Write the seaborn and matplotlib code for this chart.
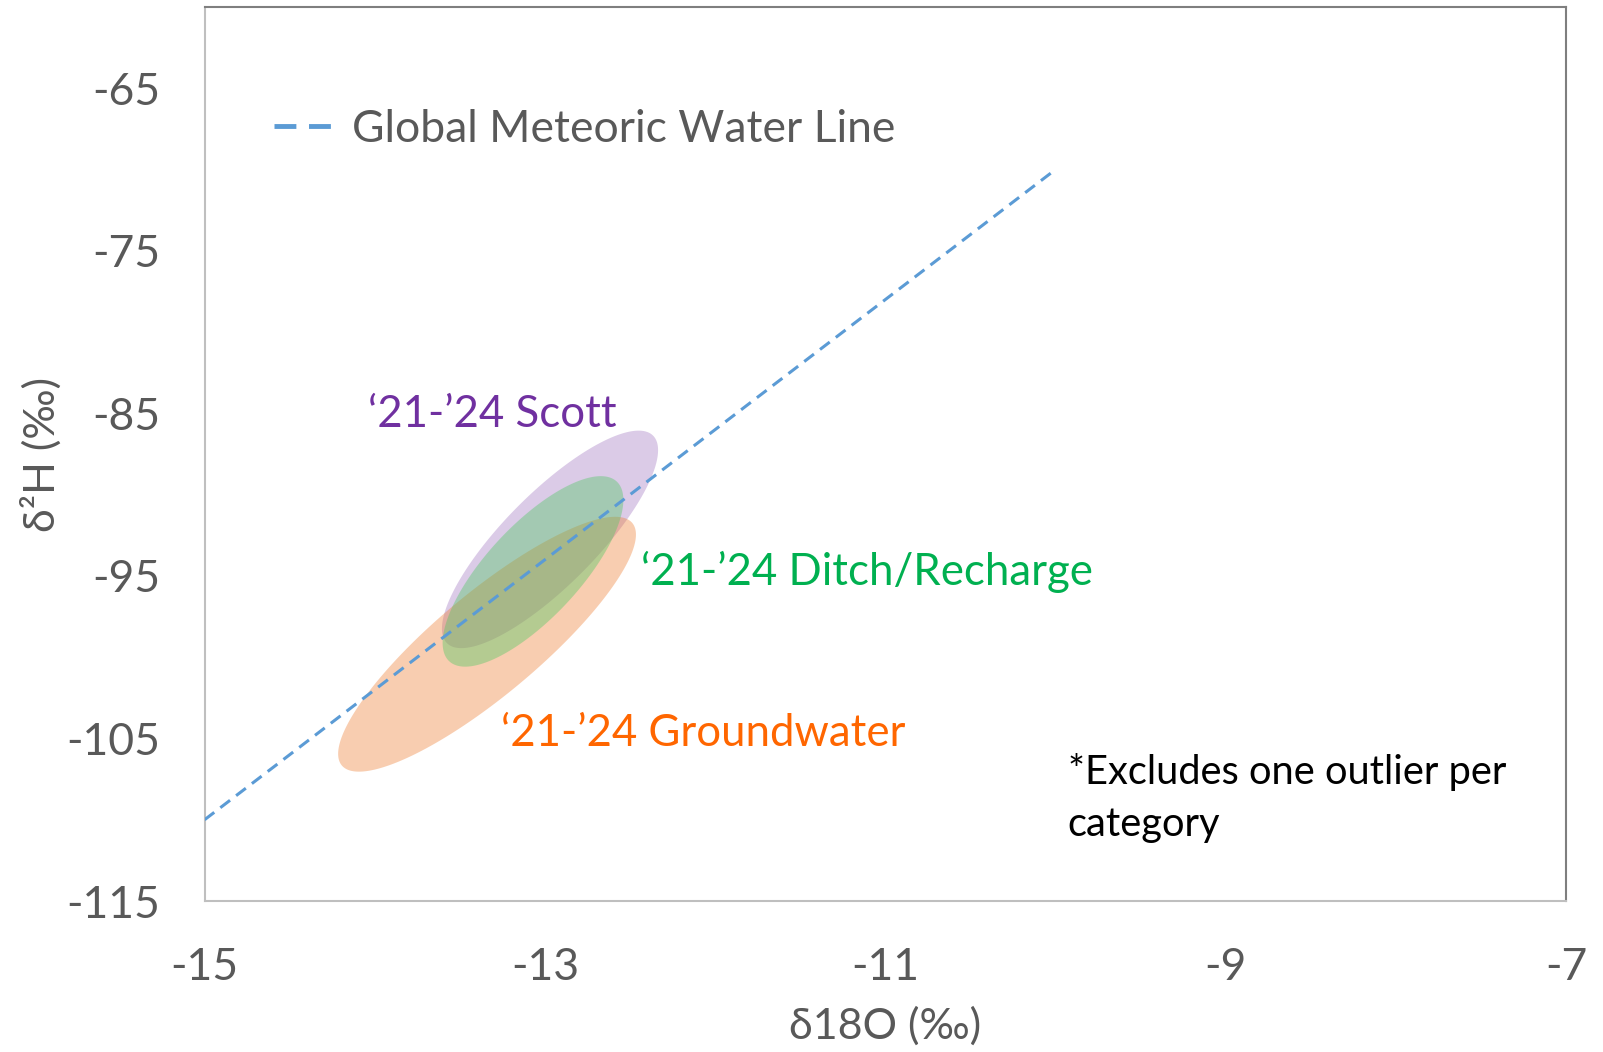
import numpy as np
import seaborn as sns
import matplotlib.pyplot as plt
from matplotlib.lines import Line2D

# --- data ---
gmwl_o18 = [-15, -10]
gmwl_h2 = [-110, -70]

groups = ["Scott", "Ditch/Recharge", "Groundwater"]
center_o18 = [-12.97, -13.07, -13.34]
center_h2 = [-92.75, -94.72, -99.20]
half_o18 = [0.635, 0.531, 0.875]
half_h2 = [6.69, 5.86, 7.84]
corr = [0.82, 0.75, 0.86]

x_ticks = [-15, -13, -11, -9, -7]
y_ticks = [-65, -75, -85, -95, -105, -115]

fill_colors = {"Scott": "#7030A0", "Ditch/Recharge": "#50C864", "Groundwater": "#ED7D31"}
fill_alpha = {"Scott": 0.25, "Ditch/Recharge": 0.4, "Groundwater": 0.38}
text_colors = {"Scott": "#7030A0", "Ditch/Recharge": "#00B050", "Groundwater": "#FF6600"}

# --- style ---
sns.set_style("white")
plt.rcParams["font.family"] = ["Lato", "DejaVu Sans"]
plt.rcParams["axes.unicode_minus"] = False
grey = "#595959"
fs = 32

fig = plt.figure(figsize=(16.03, 10.52), dpi=100)
ax = fig.add_axes([0.1276, 0.1435, 0.8493, 0.8498])

# ellipses (drawn as bivariate ranges)
t = np.linspace(0, 2 * np.pi, 300)
for g in ["Scott", "Groundwater", "Ditch/Recharge"]:
    i = groups.index(g)
    r = corr[i]
    ex = center_o18[i] + half_o18[i] * np.cos(t)
    ey = center_h2[i] + half_h2[i] * (r * np.cos(t) + np.sqrt(1 - r**2) * np.sin(t))
    ax.fill(ex, ey, color=fill_colors[g], alpha=fill_alpha[g], lw=0, zorder=1)

# GMWL
sns.lineplot(x=gmwl_o18, y=gmwl_h2, ax=ax, color="#5B9BD5", lw=2.2,
             dashes=False, zorder=3)
ax.lines[-1].set_dashes([4, 2.5])

ax.set_xlim(-15, -7)
ax.set_ylim(-115, -60)
ax.set_xticks(x_ticks)
ax.set_yticks(y_ticks)
ax.tick_params(axis="both", length=0, labelsize=fs, labelcolor=grey)
ax.tick_params(axis="y", pad=32)
ax.tick_params(axis="x", pad=33)

for side in ["left", "bottom"]:
    ax.spines[side].set_color("#BFBFBF")
    ax.spines[side].set_linewidth(1.5)
for side in ["top", "right"]:
    ax.spines[side].set_color("#7F7F7F")
    ax.spines[side].set_linewidth(1.5)

ax.set_xlabel("δ18O (‰)", fontsize=31, color=grey, labelpad=13)
ax.set_ylabel("δ²H (‰)", fontsize=31, color=grey, labelpad=3)

# legend
handle = Line2D([], [], color="#5B9BD5", lw=3.5, dashes=[4.5, 2.6])
ax.legend(handles=[handle], labels=["Global Meteoric Water Line"], loc="center left",
          bbox_to_anchor=(0.051, 0.863), frameon=False, fontsize=fs,
          handlelength=1.3, handletextpad=0.45, borderpad=0, borderaxespad=0,
          labelcolor=grey)

# group labels
lfs = 31.5
ax.text(-14.04, -85.84, "‘21-’24 Scott", color=text_colors["Scott"], fontsize=lfs, va="baseline")
ax.text(-12.435, -95.56, "‘21-’24 Ditch/Recharge", color=text_colors["Ditch/Recharge"],
        fontsize=lfs, va="baseline")
ax.text(-13.258, -105.46, "‘21-’24 Groundwater", color=text_colors["Groundwater"],
        fontsize=lfs, va="baseline")

ax.text(-9.927, -107.8, "*Excludes one outlier per", color="black", fontsize=28.7, va="baseline")
ax.text(-9.927, -111.0, "category", color="black", fontsize=28.7, va="baseline")

fig.savefig("out.png", dpi=100)
